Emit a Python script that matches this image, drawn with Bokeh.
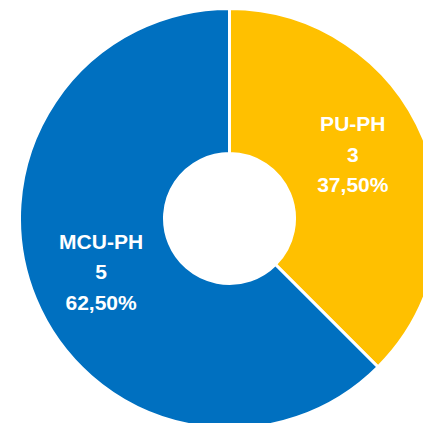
import math
from bokeh.plotting import figure
from bokeh.models import Range1d, ColumnDataSource
from bokeh.core.properties import value
from bokeh.embed import file_html
from bokeh.resources import INLINE

categories = ["PU-PH", "MCU-PH"]
counts = [3, 5]
colors = ["#FFC000", "#0070C0"]

W = H = 423
cx, cy = 229, 205
r_in, r_out = 65, 210
label_r = 139
label_nudge_deg = [5, 0]

total = sum(counts)
starts, ends, labels, lx, ly = [], [], [], [], []
angle = math.pi / 2
for cat, c, nd in zip(categories, counts, label_nudge_deg):
    sweep = 2 * math.pi * c / total
    start = angle
    end = angle - sweep
    starts.append(end)
    ends.append(start)
    mid = (start + end) / 2 + math.radians(nd)
    lx.append(cx + label_r * math.cos(mid))
    ly.append(cy + label_r * math.sin(mid))
    pct = f"{100 * c / total:.2f}".replace(".", ",")
    labels.append(f"{cat}\n{c}\n{pct}%")
    angle = end

src = ColumnDataSource(dict(cat=categories, start=starts, end=ends, color=colors,
                            x=[cx] * len(counts), y=[cy] * len(counts),
                            lx=lx, ly=ly, label=labels))

p = figure(width=W, height=H, output_backend="svg", toolbar_location=None,
           x_range=Range1d(0, W), y_range=Range1d(0, H), min_border=0)
p.axis.visible = False
p.grid.visible = False
p.outline_line_color = None
p.background_fill_color = "white"
p.border_fill_color = "white"

p.annular_wedge(x="x", y="y", inner_radius=r_in, outer_radius=r_out,
                start_angle="start", end_angle="end", fill_color="color",
                line_color="white", line_width=3, source=src)

p.text(x="lx", y="ly", text="label", source=src, text_align="center",
       text_baseline="middle", text_color="white", text_font=value("Liberation Sans"),
       text_font_style="bold", text_font_size="21px", text_line_height=1.33)

open("out.html", "w").write(file_html(p, INLINE))
